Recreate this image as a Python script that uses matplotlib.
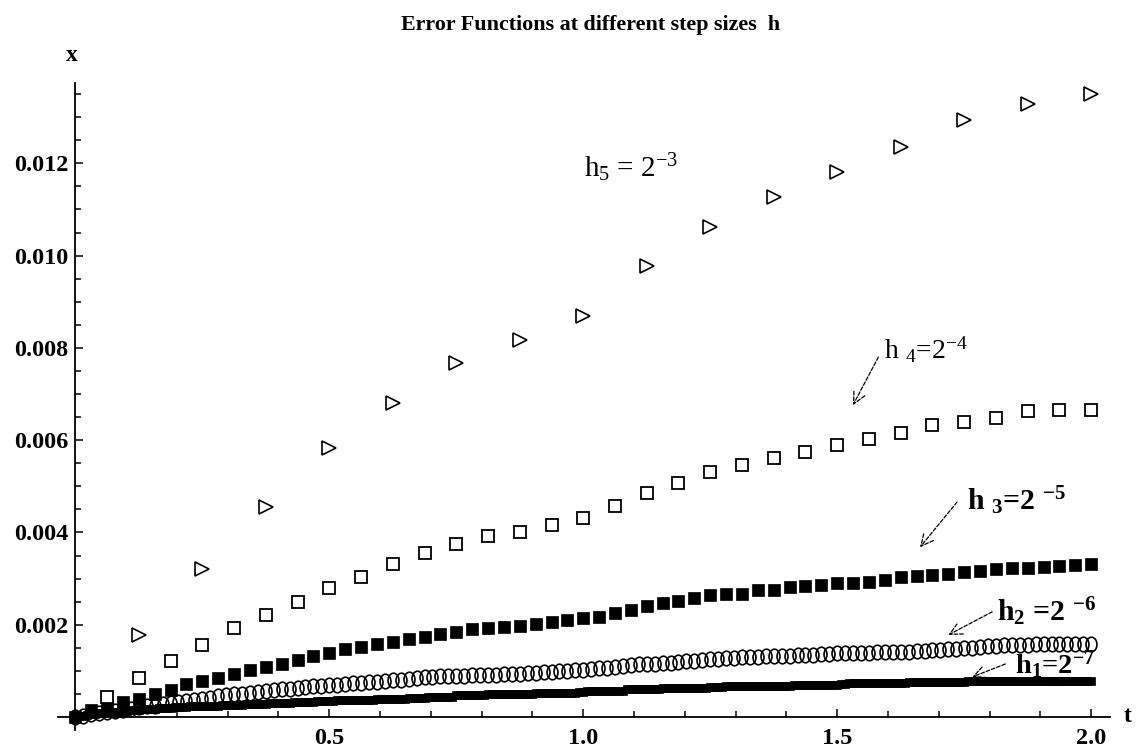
import numpy as np
import matplotlib
matplotlib.use("Agg")
import matplotlib.pyplot as plt
from matplotlib.path import Path
from matplotlib.ticker import FixedLocator, FormatStrFormatter

plt.rcParams['font.family'] = ['Liberation Serif', 'DejaVu Serif']
plt.rcParams['mathtext.fontset'] = 'custom'
plt.rcParams['mathtext.rm'] = 'Liberation Serif'
plt.rcParams['mathtext.bf'] = 'Liberation Serif:bold'
plt.rcParams['mathtext.default'] = 'regular'

# h5 = 2^-3 : step 0.125
t5 = np.arange(1, 17) * 0.125
x5 = [0.00178, 0.00320, 0.00456, 0.00582, 0.00680, 0.00768, 0.00818, 0.00869,
      0.00977, 0.01062, 0.01127, 0.01182, 0.01236, 0.01294, 0.01328, 0.01351]

# h4 = 2^-4 : step 0.0625
t4 = np.arange(1, 33) * 0.0625
x4 = [0.00044, 0.00085, 0.00122, 0.00157, 0.00192, 0.00222, 0.00250, 0.00280,
      0.00304, 0.00331, 0.00355, 0.00374, 0.00393, 0.00400, 0.00416, 0.00432,
      0.00458, 0.00485, 0.00508, 0.00532, 0.00546, 0.00562, 0.00574, 0.00589,
      0.00602, 0.00615, 0.00633, 0.00640, 0.00647, 0.00663, 0.00665, 0.00665]

# h3 = 2^-5 : step 0.03125 (units 1e-5)
t3 = np.arange(0, 65) * 0.03125
x3 = [0, 15, 26, 33, 40, 51, 59, 71, 78, 85, 93, 102, 109, 116, 124, 132,
      139, 147, 152, 158, 163, 170, 174, 181, 185, 190, 194, 196, 197, 201, 205, 210,
      214, 217, 225, 232, 241, 248, 252, 257, 264, 267, 267, 275, 275, 281, 284, 286,
      291, 291, 293, 297, 303, 306, 308, 311, 315, 317, 320, 322, 324, 326, 328, 329,
      331]

# h2 = 2^-6 : step 0.015625 (units 1e-5)
t2 = np.arange(0, 129) * 0.015625
x2 = [0, 3, 6, 9, 12, 14, 16, 18,
      21, 23, 25, 28, 30, 32, 35, 38,
      40, 42, 45, 47, 49, 51, 53, 55,
      56, 58, 60, 61, 63, 65, 67, 68,
      69, 70, 72, 73, 74, 76, 77, 79,
      80, 81, 83, 84, 86, 87, 88, 89,
      90, 90, 91, 91, 92, 92, 93, 93,
      94, 95, 96, 97, 98, 99, 100, 102,
      103, 104, 106, 107, 109, 111, 112, 114,
      115, 116, 117, 118, 120, 121, 122, 124,
      125, 126, 128, 129, 131, 131, 131, 132,
      132, 133, 133, 134, 134, 135, 136, 137,
      138, 138, 139, 139, 139, 140, 141, 141,
      142, 142, 143, 144, 145, 146, 147, 148,
      149, 150, 152, 154, 155, 156, 156, 157,
      157, 158, 158, 158, 158, 158, 158, 158,
      158]

# h1 = 2^-7 : step 0.0078125 (units 1e-5)
t1 = np.arange(0, 257) * 0.0078125
x1 = [0, 2, 3, 5, 6, 7, 8, 9, 10, 11, 12, 12, 13, 14, 15, 15,
      16, 17, 17, 18, 18, 19, 19, 20, 20, 21, 22, 22, 22, 23, 23, 24,
      24, 24, 25, 25, 25, 26, 26, 26, 27, 27, 27, 28, 28, 28, 29, 29,
      29, 30, 30, 30, 31, 31, 31, 32, 32, 32, 33, 33, 33, 34, 34, 34,
      35, 35, 36, 37, 37, 37, 37, 38, 38, 38, 38, 38, 39, 39, 39, 39,
      40, 40, 40, 40, 41, 41, 41, 42, 42, 43, 43, 43, 43, 43, 43, 43,
      47, 47, 47, 48, 48, 48, 48, 48, 49, 49, 49, 49, 50, 50, 50, 50,
      51, 51, 51, 51, 52, 52, 52, 53, 53, 53, 53, 53, 53, 53, 53, 55,
      55, 56, 56, 56, 57, 57, 57, 57, 57, 57, 57, 60, 60, 61, 61, 61,
      61, 61, 61, 61, 62, 62, 62, 62, 62, 63, 63, 64, 64, 64, 64, 64,
      66, 66, 66, 66, 67, 67, 67, 67, 67, 67, 67, 67, 67, 67, 68, 68,
      68, 68, 68, 68, 68, 69, 69, 69, 69, 69, 69, 69, 70, 70, 70, 70,
      70, 71, 72, 73, 73, 73, 73, 73, 73, 73, 73, 74, 74, 74, 74, 74,
      74, 74, 75, 75, 75, 75, 76, 76, 76, 76, 76, 76, 76, 77, 77, 77,
      77, 78, 78, 79, 79, 79, 79, 79, 79, 79, 79, 79, 79, 79, 79, 79,
      79, 79, 79, 79, 79, 79, 79, 79, 79, 79, 79, 79, 79, 79, 79, 79,
      79]

labels = ['h$_{5}$ = 2$^{-3}$', 'h $_{4}$=2$^{-4}$',
          'h $_{3}$=2 $^{-5}$', 'h$_{2}$ =2 $^{-6}$', 'h$_{1}$=2$^{-7}$']

fig = plt.figure(figsize=(11.36, 7.49), dpi=100)
ax = fig.add_axes([0.0511, 0.0254, 0.926, 0.8638])

# tall ellipse marker for h2
circ = Path.unit_circle()
ell = Path(circ.vertices * np.array([0.75, 1.0]), circ.codes)

ax.plot(t1, np.array(x1) * 1e-5, ls='none', marker='s', ms=5.2, mfc='black', mec='black', mew=0.5)
ax.plot(t2, np.array(x2) * 1e-5, ls='none', marker=ell, ms=10.5, mfc='none', mec='black', mew=1.2)
ax.plot(t3, np.array(x3) * 1e-5, ls='none', marker='s', ms=8, mfc='black', mec='black', mew=0.5)
ax.plot(t4, x4, ls='none', marker='s', ms=8, mfc='white', mec='black', mew=1.3)
ax.plot(t5, x5, ls='none', marker='>', ms=9.5, mfc='white', mec='black', mew=1.2)

ax.set_xlim(-0.034, 2.037)
ax.set_ylim(-0.00028, 0.01374)

for s in ['top', 'right']:
    ax.spines[s].set_visible(False)
ax.spines['left'].set_position(('data', 0))
ax.spines['bottom'].set_position(('data', 0))
ax.spines['left'].set_linewidth(1.3)
ax.spines['bottom'].set_linewidth(1.3)

ax.xaxis.set_major_locator(FixedLocator([0.5, 1.0, 1.5, 2.0]))
ax.xaxis.set_minor_locator(FixedLocator([0.1, 0.2, 0.3, 0.4, 0.6, 0.7, 0.8, 0.9, 1.1, 1.2, 1.3, 1.4,
                                         1.6, 1.7, 1.8, 1.9]))
ax.yaxis.set_major_locator(FixedLocator([0.002, 0.004, 0.006, 0.008, 0.010, 0.012]))
ax.yaxis.set_minor_locator(FixedLocator([i * 0.0005 for i in range(1, 28) if i % 4 != 0]))
ax.xaxis.set_major_formatter(FormatStrFormatter('%.1f'))
ax.yaxis.set_major_formatter(FormatStrFormatter('%.3f'))
ax.tick_params(which='both', direction='in', width=1.1)
ax.tick_params(which='major', length=6, labelsize=17.5)
ax.tick_params(which='minor', length=4)
ax.tick_params(axis='x', pad=8)
ax.tick_params(axis='y', pad=5)
for lab in ax.get_xticklabels() + ax.get_yticklabels():
    lab.set_fontweight('bold')

fig.text(0.52, 0.966, 'Error Functions at different step sizes  h', ha='center', va='center',
         fontsize=15.8, fontweight='bold')
fig.text(0.0634, 0.926, 'x', ha='center', va='center', fontsize=17, fontweight='bold')
fig.text(0.993, 0.044, 't', ha='center', va='center', fontsize=17, fontweight='bold')

# curve labels and arrows
ax.text(1.094, 0.01190, labels[0], ha='center', va='center', fontsize=21)
ax.text(1.675, 0.00795, labels[1], ha='center', va='center', fontsize=20)
ax.text(1.852, 0.00470, labels[2], ha='center', va='center', fontsize=21.5, fontweight='bold')
ax.text(1.911, 0.00228, labels[3], ha='center', va='center', fontsize=21.5, fontweight='bold')
ax.text(1.929, 0.00113, labels[4], ha='center', va='center', fontsize=20.5, fontweight='bold')

arrows = [((1.581, 0.00780), (1.531, 0.00676)),
          ((1.736, 0.00466), (1.663, 0.00368)),
          ((1.805, 0.00228), (1.719, 0.00178)),
          ((1.831, 0.00115), (1.766, 0.00087))]
for tail, head in arrows:
    ax.annotate('', xy=head, xytext=tail,
                arrowprops=dict(arrowstyle='->', lw=0.9, ls=(0, (3, 1.5)), color='black',
                                shrinkA=0, shrinkB=0, mutation_scale=22))

fig.savefig('out.png', dpi=100, facecolor='white')
